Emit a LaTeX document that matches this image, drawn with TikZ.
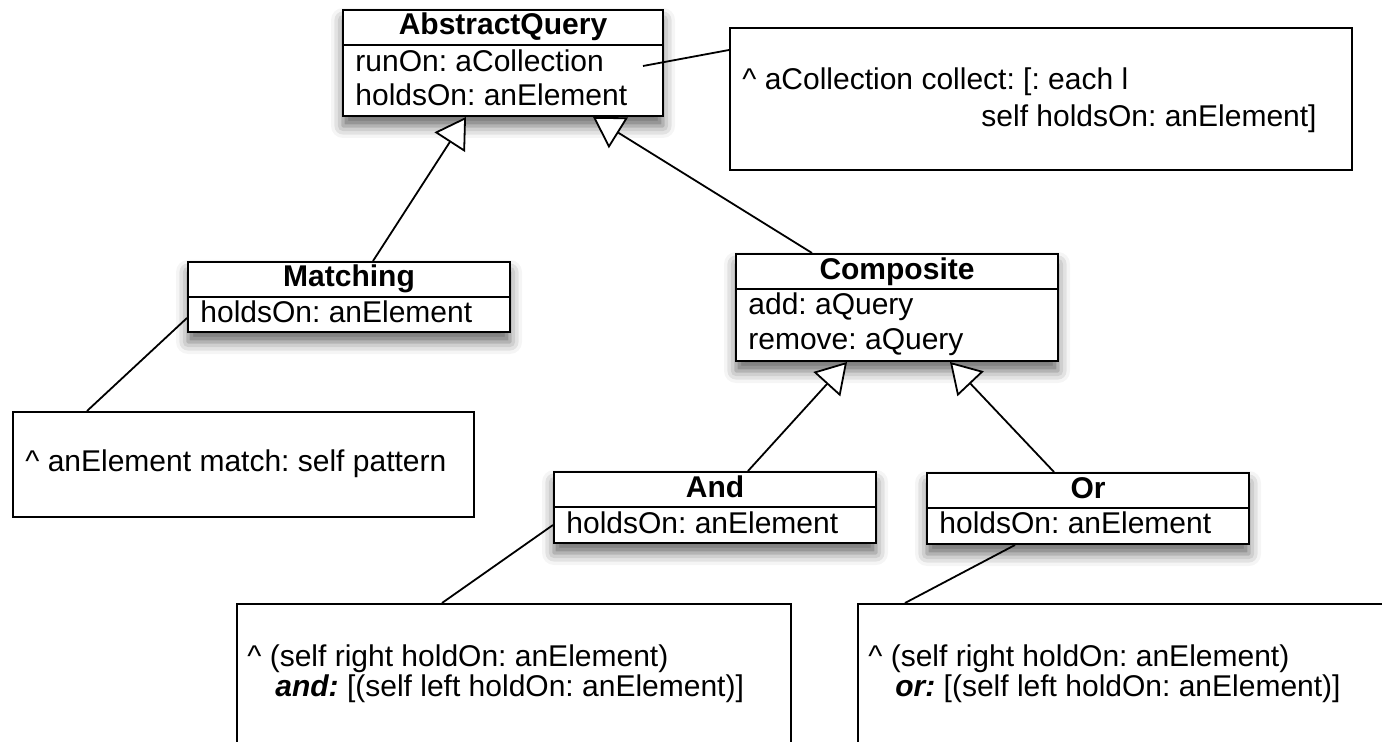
\documentclass[tikz,border=0pt]{standalone}
\usepackage{fontspec}
\setmainfont{Liberation Sans}
\usetikzlibrary{arrows.meta,shadows.blur}
\frenchspacing
\begin{document}
\begin{tikzpicture}[x=0.5pt,y=-0.5pt,
  cls/.style={draw,line width=1pt,fill=white,inner sep=0pt,
    blur shadow={shadow xshift=0pt,shadow yshift=-5pt,shadow blur radius=6pt,shadow opacity=60}},
  notebox/.style={draw,line width=1pt,fill=white,inner sep=0pt},
  txt/.style={inner sep=0pt,font=\fontsize{15pt}{18pt}\selectfont},
  gen/.style={line width=0.9pt,-{Triangle[length=15pt,width=18pt,fill=white,line width=0.9pt]}},
  link/.style={line width=0.9pt}]
\useasboundingbox (0,0) rectangle (1382,742);
\clip (0,0) rectangle (1382,742);
% notes
\node[notebox,minimum width=311pt,minimum height=71pt] (n1) at (1041,99) {};
\node[notebox,minimum width=230.5pt,minimum height=52.5pt] (n2) at (243.5,464.5) {};
\node[notebox,minimum width=277pt,minimum height=98pt] (n3) at (514,702) {};
\node[notebox,minimum width=296pt,minimum height=98pt] (n4) at (1154,702) {};
% classes
\node[cls,minimum width=160pt,minimum height=53pt] (aq) at (503,63) {};
\node[cls,minimum width=161pt,minimum height=35pt] (mt) at (349,297) {};
\node[cls,minimum width=161pt,minimum height=53.5pt] (cp) at (897,307.5) {};
\node[cls,minimum width=161pt,minimum height=35.5pt] (an) at (715,507.5) {};
\node[cls,minimum width=161pt,minimum height=35.5pt] (or) at (1088,508.5) {};
% dividers
\foreach \b in {aq,mt,cp,an,or}{
  \draw[line width=1pt] ([yshift=-18pt]\b.north west) -- ([yshift=-18pt]\b.north east);
}
% class texts
\node[txt,anchor=base] (aqt) at (503,35) {\textbf{AbstractQuery}};
\node[txt,anchor=base west] (aq1) at (355,72) {runOn: aCollection};
\node[txt,anchor=base west] (aq2) at (355,106) {holdsOn: anElement};
\node[txt,anchor=base] (mtt) at (349,287) {\textbf{Matching}};
\node[txt,anchor=base west] (mt1) at (200,323) {holdsOn: anElement};
\node[txt,anchor=base] (cpt) at (897,280) {\textbf{Composite}};
\node[txt,anchor=base west] (cp1) at (748,315) {add: aQuery};
\node[txt,anchor=base west] (cp2) at (748,350) {remove: aQuery};
\node[txt,anchor=base] (ant) at (715,498) {\textbf{And}};
\node[txt,anchor=base west] (an1) at (566,534) {holdsOn: anElement};
\node[txt,anchor=base] (ort) at (1088,499) {\textbf{Or}};
\node[txt,anchor=base west] (or1) at (939,534) {holdsOn: anElement};
% note texts
\node[txt,anchor=base west] (n1a) at (742,90) {\^{} aCollection collect: [: each l};
\node[txt,anchor=base east] (n1b) at (1317,127) {self holdsOn: anElement]};
\node[txt,anchor=base west] (n2a) at (25,472) {\^{} anElement match: self pattern};
\node[txt,anchor=base west] (n3a) at (247,667) {\^{} (self right holdOn: anElement)};
\node[txt,anchor=base west] (n3b) at (275,697) {\textbf{\textit{and:}} [(self left holdOn: anElement)]};
\node[txt,anchor=base west] (n4a) at (868,667) {\^{} (self right holdOn: anElement)};
\node[txt,anchor=base west] (n4b) at (895,697) {\textbf{\textit{or:}} [(self left holdOn: anElement)]};
% generalizations
\draw[gen] ([xshift=12pt]mt.north) -- ([xshift=-18.5pt]aq.south);
\draw[gen] ([xshift=-42.5pt]cp.north) -- ([xshift=45pt]aq.south);
\draw[gen] ([xshift=16.5pt]an.north) -- ([xshift=-25pt]cp.south);
\draw[gen] ([xshift=-17pt]or.north) -- ([xshift=26.5pt]cp.south);
% note links
\draw[link] ([xshift=70pt,yshift=-1.5pt]aq.center) -- ([yshift=24.5pt]n1.west);
\draw[link] ([yshift=-10.5pt]mt.west) -- ([xshift=-78.25pt]n2.north);
\draw[link] ([yshift=-8.75pt]an.west) -- ([xshift=-36pt]n3.north);
\draw[link] ([xshift=-36.5pt]or.south) -- ([xshift=-124.5pt]n4.north);
\end{tikzpicture}
\end{document}
